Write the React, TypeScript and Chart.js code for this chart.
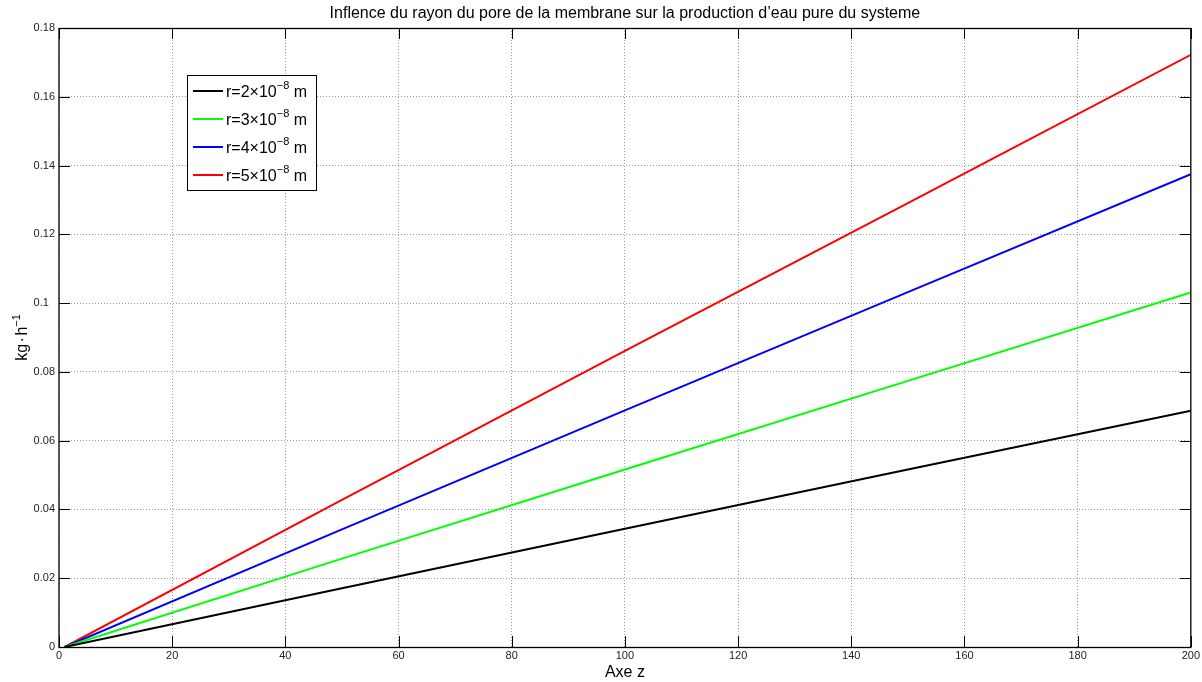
import React, { useEffect, useRef } from "react";
import { Chart, registerables } from "chart.js";

Chart.register(...registerables);

// Axial position along the module (Axe z)
const zPositions = [1, 50, 100, 150, 200];

// Pure-water production (kg/h) for each pore radius
const productionR2 = [0, 0.0171, 0.0344, 0.0516, 0.0687];
const productionR3 = [0, 0.0257, 0.0516, 0.0774, 0.1031];
const productionR4 = [0, 0.0342, 0.0688, 0.1032, 0.1375];
const productionR5 = [0, 0.0428, 0.0861, 0.1291, 0.1722];

const radiusLabels = ["2", "3", "4", "5"];
const seriesColors = ["#000000", "#00ff00", "#0000ff", "#ff0000"];

const yTickLabels = ["0", "0.02", "0.04", "0.06", "0.08", "0.1  ", "0.12", "0.14", "0.16", "0.18"];

const chartTitle = "Inflence du rayon du pore de la membrane sur la production d\u2019eau pure du systeme";
const xAxisTitle = "Axe z";

const FONT = '"Liberation Sans", Arial, Helvetica, sans-serif';

const frameAndLabels = {
  id: "frameAndLabels",
  afterDraw(chart: any) {
    const { ctx, chartArea } = chart;
    const { left, right, top, bottom } = chartArea;
    const xs = chart.scales.x;
    const ys = chart.scales.y;
    ctx.save();

    // axes box
    ctx.strokeStyle = "#000";
    ctx.lineWidth = 1.3;
    ctx.setLineDash([]);
    ctx.strokeRect(left, top + 0.5, right - left, bottom - top);

    // inward tick marks on all four sides
    const tickLen = 11;
    ctx.lineWidth = 1;
    ctx.beginPath();
    xs.ticks.forEach((t: any) => {
      const px = Math.round(xs.getPixelForValue(t.value)) + 0.5;
      ctx.moveTo(px, bottom);
      ctx.lineTo(px, bottom - tickLen);
      ctx.moveTo(px, top);
      ctx.lineTo(px, top + tickLen);
    });
    ys.ticks.forEach((t: any) => {
      const py = Math.round(ys.getPixelForValue(t.value)) + 0.5;
      ctx.moveTo(left, py);
      ctx.lineTo(left + tickLen, py);
      ctx.moveTo(right, py);
      ctx.lineTo(right - tickLen, py);
    });
    ctx.stroke();

    // title
    ctx.fillStyle = "#000";
    ctx.textAlign = "center";
    ctx.textBaseline = "alphabetic";
    ctx.font = `16px ${FONT}`;
    ctx.fillText(chartTitle, (left + right) / 2, 18);

    // x axis title
    ctx.font = `16px ${FONT}`;
    ctx.fillText(xAxisTitle, (left + right) / 2, 677);

    // y axis title: kg·h^-1, rotated
    ctx.save();
    ctx.translate(27, (top + bottom) / 2);
    ctx.rotate(-Math.PI / 2);
    ctx.textAlign = "left";
    const bodyFont = `16px ${FONT}`;
    const supFont = `11px ${FONT}`;
    ctx.font = bodyFont;
    const wKg = ctx.measureText("kg").width;
    const wDot = ctx.measureText("\u00b7").width;
    const wH = ctx.measureText("h").width;
    ctx.font = supFont;
    const wSup = ctx.measureText("\u22121").width;
    const gap = 1.5;
    const total = wKg + gap + wDot + gap + wH + wSup;
    let cx = -total / 2;
    ctx.font = bodyFont;
    ctx.fillText("kg", cx, 0);
    cx += wKg + gap;
    ctx.fillText("\u00b7", cx, 0);
    cx += wDot + gap;
    ctx.fillText("h", cx, 0);
    cx += wH;
    ctx.font = supFont;
    ctx.fillText("\u22121", cx, -7);
    ctx.restore();

    // legend
    const lx = 187;
    const ly = 75;
    const lw = 129;
    const lh = 115;
    ctx.fillStyle = "#fff";
    ctx.fillRect(lx, ly, lw, lh);
    ctx.strokeStyle = "#000";
    ctx.lineWidth = 1;
    ctx.strokeRect(lx + 0.5, ly + 0.5, lw, lh);
    radiusLabels.forEach((r, i) => {
      const rowY = 91 + i * 28;
      ctx.strokeStyle = seriesColors[i];
      ctx.lineWidth = 2;
      ctx.beginPath();
      ctx.moveTo(193, rowY);
      ctx.lineTo(223, rowY);
      ctx.stroke();
      ctx.fillStyle = "#000";
      ctx.textAlign = "left";
      let tx = 226;
      const base = rowY + 6;
      ctx.font = `16px ${FONT}`;
      const main = `r=${r}\u00d710`;
      ctx.fillText(main, tx, base);
      tx += ctx.measureText(main).width;
      ctx.font = `11px ${FONT}`;
      ctx.fillText("\u22128", tx, base - 8);
      tx += ctx.measureText("\u22128").width;
      ctx.font = `16px ${FONT}`;
      ctx.fillText(" m", tx, base);
    });

    ctx.restore();
  },
};

export default function App() {
  const canvasRef = useRef<HTMLCanvasElement | null>(null);

  useEffect(() => {
    const canvas = canvasRef.current;
    if (!canvas) return;
    const series = [productionR2, productionR3, productionR4, productionR5];
    const chart = new Chart(canvas, {
      type: "line",
      data: {
        datasets: series.map((values, i) => ({
          label: `r=${radiusLabels[i]}e-8 m`,
          data: values.map((v, k) => ({ x: zPositions[k], y: v })),
          borderColor: seriesColors[i],
          backgroundColor: seriesColors[i],
          borderWidth: 2,
          pointRadius: 0,
          tension: 0,
          fill: false,
        })),
      },
      options: {
        responsive: true,
        maintainAspectRatio: false,
        animation: false,
        layout: { padding: { top: 28, right: 11, bottom: 0, left: 0 } },
        plugins: {
          legend: { display: false },
          title: { display: false },
          tooltip: { enabled: false },
        },
        scales: {
          x: {
            type: "linear",
            min: 0,
            max: 200,
            afterFit: (s: any) => {
              s.height = 35;
            },
            ticks: {
              stepSize: 20,
              padding: 2,
              color: "#222",
              font: { family: FONT, size: 11 },
              maxRotation: 0,
              autoSkip: false,
            },
            grid: { color: "rgba(0,0,0,0.4)", lineWidth: 1, drawTicks: false },
            border: { display: false, dash: [1, 2] },
          },
          y: {
            type: "linear",
            min: 0,
            max: 0.18,
            afterFit: (s: any) => {
              s.width = 59;
            },
            ticks: {
              stepSize: 0.02,
              padding: 4,
              color: "#222",
              font: { family: FONT, size: 11 },
              autoSkip: false,
              callback: (_v: any, i: number) => yTickLabels[i],
            },
            grid: { color: "rgba(0,0,0,0.4)", lineWidth: 1, drawTicks: false },
            border: { display: false, dash: [1, 2] },
          },
        },
      },
      plugins: [frameAndLabels],
    });
    return () => chart.destroy();
  }, []);

  return (
    <div style={{ position: "absolute", left: 0, top: 0, width: 1202, height: 682, background: "#fff" }}>
      <canvas ref={canvasRef} />
    </div>
  );
}
